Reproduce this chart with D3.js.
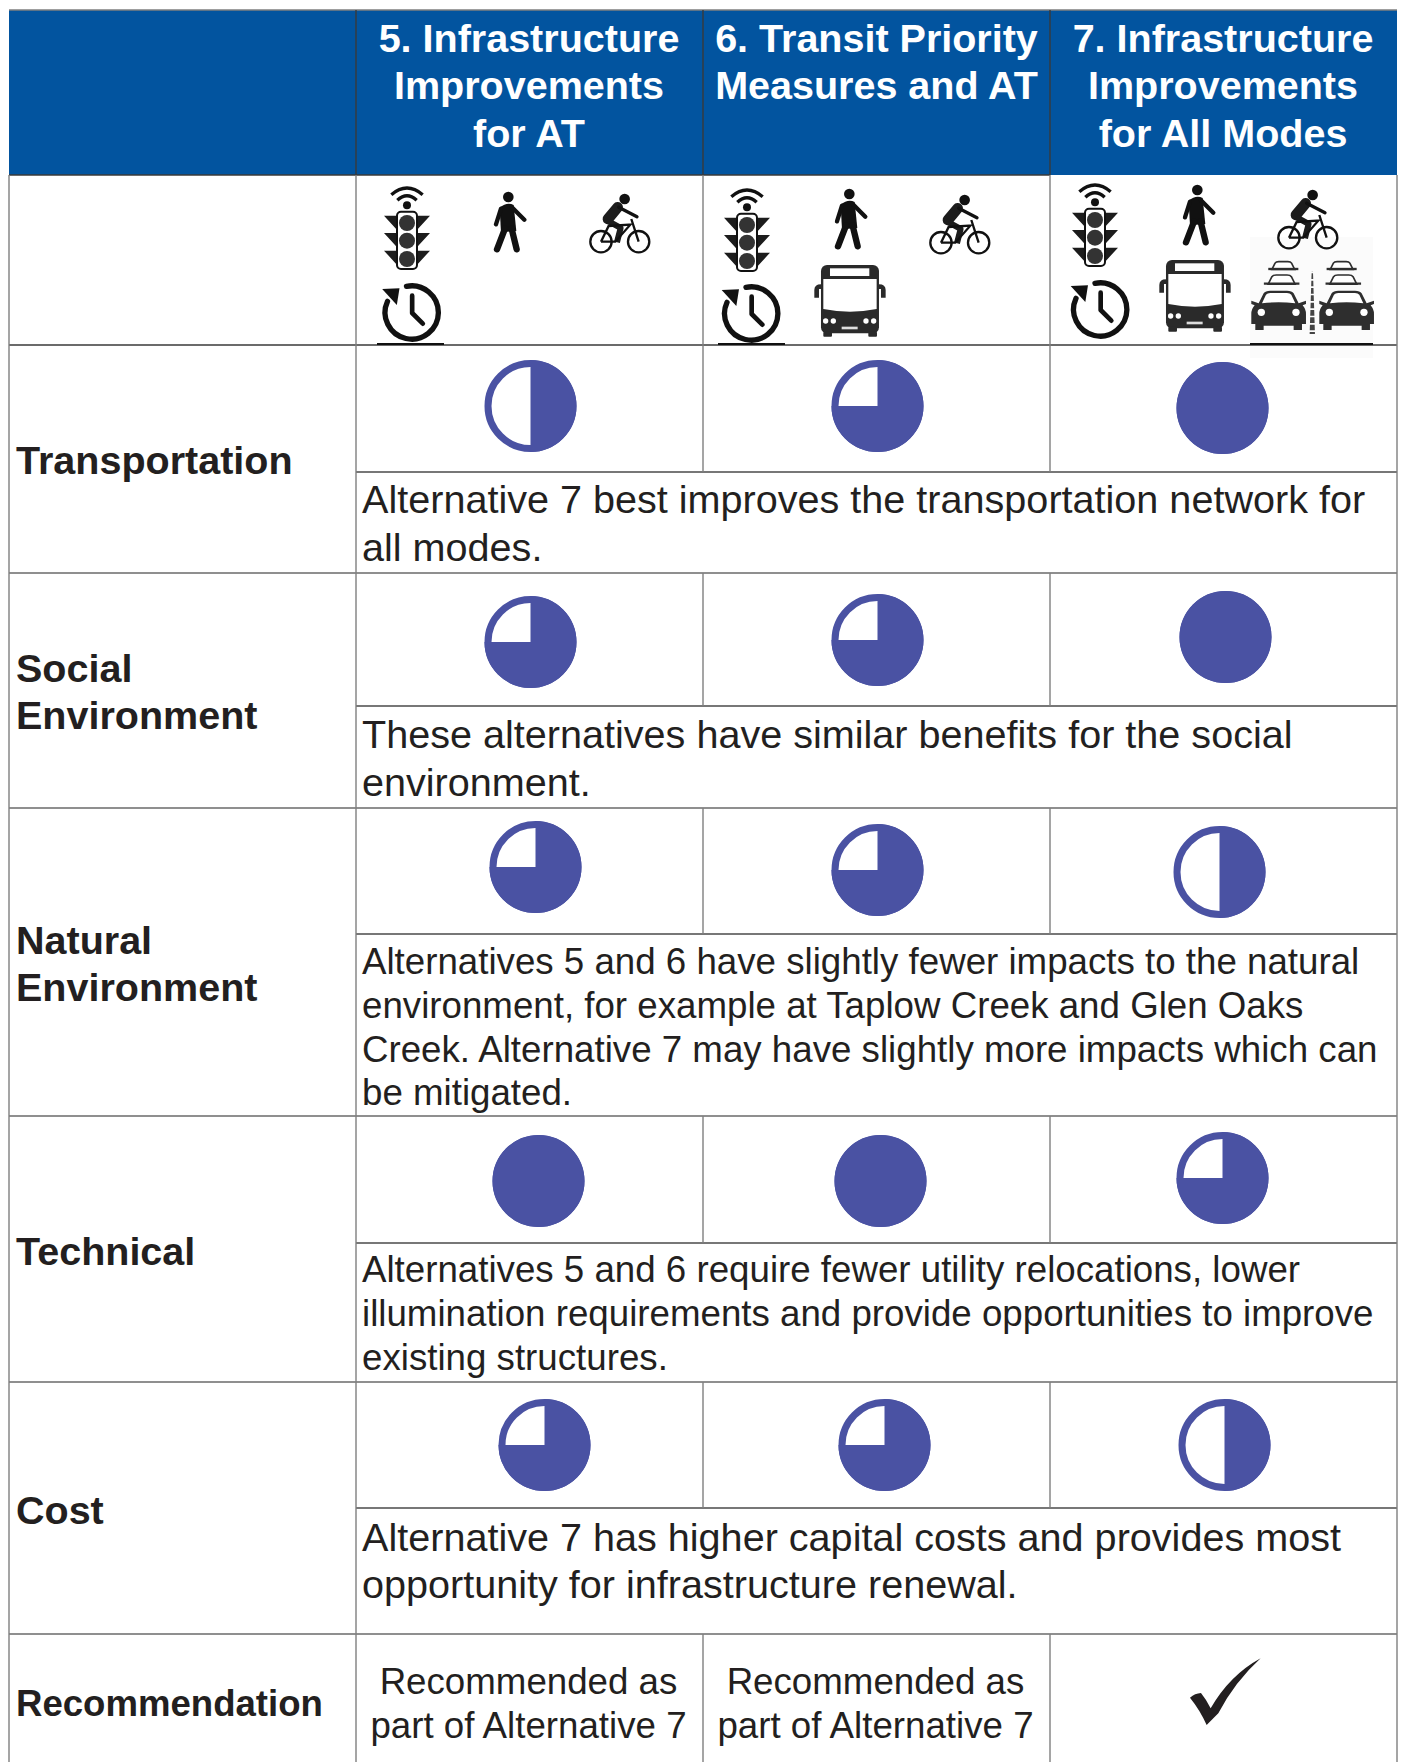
<!DOCTYPE html>
<html>
<head>
<meta charset="utf-8">
<script src="https://cdnjs.cloudflare.com/ajax/libs/d3/7.8.5/d3.min.js"></script>
<style>
    html, body { margin: 0; background: #fff; }
    svg { display: block; }
    text { font-family: "Liberation Sans", Arial, sans-serif; fill: #231f20; }
</style>
</head>
<body>
<svg id="chart"></svg>
<script>
// ---- values ----
const alternatives = ["alt5", "alt6", "alt7"];
const altTitles = [
    ["5. Infrastructure", "Improvements", "for AT"],
    ["6. Transit Priority", "Measures and AT"],
    ["7. Infrastructure", "Improvements", "for All Modes"],
];
const criteria = ["Transportation", "Social Environment", "Natural Environment", "Technical", "Cost"];
const criteriaLines = [
    ["Transportation"],
    ["Social", "Environment"],
    ["Natural", "Environment"],
    ["Technical"],
    ["Cost"],
];
// how full each ball is, one row per criterion
const scoresAlt5 = [0.5, 0.75, 0.75, 1, 0.75];
const scoresAlt6 = [0.75, 0.75, 0.75, 1, 0.75];
const scoresAlt7 = [1, 1, 0.5, 0.75, 0.5];
const notes = [
    ["Alternative 7 best improves the transportation network for", "all modes."],
    ["These alternatives have similar benefits for the social", "environment."],
    ["Alternatives 5 and 6 have slightly fewer impacts to the natural",
        "environment, for example at Taplow Creek and Glen Oaks",
        "Creek. Alternative 7 may have slightly more impacts which can",
        "be mitigated."],
    ["Alternatives 5 and 6 require fewer utility relocations, lower",
        "illumination requirements and provide opportunities to improve",
        "existing structures."],
    ["Alternative 7 has higher capital costs and provides most",
        "opportunity for infrastructure renewal."],
];
const recommendationLabel = "Recommendation";
const recommendedText = ["Recommended as", "part of Alternative 7"];

// ---- layout ----
const width = 1403, height = 1762;
const rowEdges = [345, 573, 808, 1116, 1382, 1634];   // top of each criterion, then top of last row
const subLines = [472, 706, 934, 1243, 1508];
const ballRowY = [406, 640, 868, 1180, 1444];
const ballNudge = [
    [[1, 0], [1, 0], [-1, 2]],
    [[1, 2], [1, 0], [2, -3]],
    [[6, -1], [1, 2], [-4, 4]],
    [[9, 1], [4, 1], [-1, -2]],
    [[15, 1], [8, 1], [1, 1]],
];
const labelBaselines = [[474], [682, 729], [954, 1001], [1265], [1524]];
const noteBaselines = [[513, 561], [748, 796], [974, 1018, 1062, 1105], [1282, 1326, 1370], [1551, 1598]];
const noteFont = [39.6, 39.6, 36.7, 36.7, 39.6];
const headerBaselines = [52, 99, 147];

const svg = d3.select("#chart").attr("width", width).attr("height", height);

const x = d3.scaleBand().domain(alternatives).range([356, 1397]);
const ballY = d3.scaleOrdinal().domain(criteria).range(ballRowY);
const ballR = d3.scaleLinear().domain([0, 1]).range([0, 46]);
const scoreByAlt = {alt5: scoresAlt5, alt6: scoresAlt6, alt7: scoresAlt7};

const lineGrey = "#7f7f7f", lineDark = "#3a3a3a", blue = "#02549f", ballBlue = "#4a52a3";

// header band
svg.append("rect").attr("x", 9).attr("y", 10).attr("width", 1388).attr("height", 165).attr("fill", blue);

// faint box left behind the cars picture
svg.append("rect").attr("x", 1250).attr("y", 237).attr("width", 123).attr("height", 121).attr("fill", "#fbfbfb");

// ---- grid ----
function hLine(x1, x2, y, color) {
    svg.append("line").attr("x1", x1).attr("x2", x2).attr("y1", y).attr("y2", y)
        .attr("stroke", color).attr("stroke-width", 1.4);
}
function vLine(xp, y1, y2, color) {
    svg.append("line").attr("x1", xp).attr("x2", xp).attr("y1", y1).attr("y2", y2)
        .attr("stroke", color).attr("stroke-width", 1.4);
}
hLine(9, 1397, 10, lineGrey);
hLine(9, 1050, 175, lineDark);
hLine(9, 1397, 345, lineDark);
rowEdges.slice(1).forEach(y => hLine(9, 1397, y, "#6a6a6a"));
subLines.forEach(y => hLine(356, 1397, y, "#4a4a4a"));

vLine(9, 175, height, lineGrey);
vLine(1397, 175, height, lineGrey);
vLine(356, 10, 175, lineDark);
vLine(703, 10, 175, lineDark);
vLine(1050, 10, 175, lineDark);
vLine(356, 175, height, lineGrey);
d3.range(0, criteria.length).forEach(i => {
    vLine(703, i === 0 ? 175 : rowEdges[i], subLines[i], lineGrey);
    vLine(1050, i === 0 ? 175 : rowEdges[i], subLines[i], lineGrey);
});
vLine(703, 1634, height, lineGrey);
vLine(1050, 1634, height, lineGrey);

// ---- header text ----
alternatives.forEach((alt, i) => {
    svg.append("g").selectAll("text").data(altTitles[i]).enter().append("text")
        .attr("x", x(alt) + x.bandwidth() / 2 + (i === 1 ? 0 : -0.5))
        .attr("y", (d, j) => headerBaselines[j])
        .attr("text-anchor", "middle")
        .attr("font-size", 39.5)
        .attr("font-weight", "bold")
        .style("fill", "#fff")
        .text(d => d);
});

// ---- row labels ----
criteriaLines.forEach((lines, i) => {
    svg.append("g").selectAll("text").data(lines).enter().append("text")
        .attr("x", 16)
        .attr("y", (d, j) => labelBaselines[i][j])
        .attr("font-size", 39.5)
        .attr("font-weight", "bold")
        .text(d => d);
});
svg.append("text").attr("x", 16).attr("y", 1716)
    .attr("font-size", 36.6).attr("font-weight", "bold").text(recommendationLabel);

// ---- notes ----
notes.forEach((lines, i) => {
    svg.append("g").selectAll("text").data(lines).enter().append("text")
        .attr("x", 362)
        .attr("y", (d, j) => noteBaselines[i][j])
        .attr("font-size", noteFont[i])
        .text(d => d);
});

// ---- harvey balls ----
const arc = d3.arc().innerRadius(0);
criteria.forEach((crit, r) => {
    alternatives.forEach((alt, c) => {
        const value = scoreByAlt[alt][r];
        const cx = x(alt) + x.bandwidth() / 2 + ballNudge[r][c][0];
        const cy = ballY(crit) + ballNudge[r][c][1];
        const outer = ballR(1);
        const ball = svg.append("g").attr("transform", `translate(${cx},${cy})`);
        ball.append("circle").attr("r", outer - 3.5)
            .attr("fill", "#fff").attr("stroke", ballBlue).attr("stroke-width", 7);
        ball.append("path")
            .attr("d", arc({outerRadius: outer, startAngle: 0, endAngle: value * 2 * Math.PI}))
            .attr("fill", ballBlue);
    });
});

// ---- recommendation row ----
alternatives.slice(0, 2).forEach(alt => {
    svg.append("g").selectAll("text").data(recommendedText).enter().append("text")
        .attr("x", x(alt) + x.bandwidth() / 2 - 1)
        .attr("y", (d, j) => 1694 + j * 44)
        .attr("text-anchor", "middle")
        .attr("font-size", 36.7)
        .text(d => d);
});
svg.append("path")
    .attr("transform", "translate(1000,1600) scale(0.3333)")
    .attr("d", "M570,293 Q585,280 603,279 Q620,300 632,325 Q690,225 782,175 Q705,245 655,340 L620,375 Q600,330 570,293Z")
    .attr("fill", "#231f20");

// ---- icons, drawn at 3x in the coordinates of the third column ----
const defs = svg.append("defs");
const ink = "#111";

const traffic = defs.append("g").attr("id", "icon-traffic");
traffic.append("path").attr("d", "M118,95 Q165,55 212,95 M136,112 Q165,85 194,112")
    .attr("fill", "none").attr("stroke", ink).attr("stroke-width", 10);
traffic.append("circle").attr("cx", 165).attr("cy", 127).attr("r", 12).attr("fill", ink);
[158, 210, 263].forEach(y => {
    traffic.append("path").attr("d", `M96,${y} L140,${y} L140,${y + 48} Z M234,${y} L190,${y} L190,${y + 48} Z`).attr("fill", "#1c1c1c");
});
traffic.append("rect").attr("x", 135).attr("y", 146).attr("width", 60).attr("height", 172).attr("rx", 12)
    .attr("fill", "#fff").attr("stroke", ink).attr("stroke-width", 6);
[180, 233, 288].forEach(y => {
    traffic.append("circle").attr("cx", 165).attr("cy", y).attr("r", 24).attr("fill", "#333");
});

const walker = defs.append("g").attr("id", "icon-walker");
walker.append("circle").attr("cx", 472).attr("cy", 90).attr("r", 16).attr("fill", ink);
walker.append("path").attr("d", "M446,122 Q468,104 488,114 L496,192 L450,196 Z").attr("fill", ink);
walker.append("path").attr("d", "M450,125 L435,172 M482,120 L520,158")
    .attr("fill", "none").attr("stroke", ink).attr("stroke-width", 13).attr("stroke-linecap", "round");
walker.append("path").attr("d", "M462,185 L438,247 M482,185 L497,247")
    .attr("fill", "none").attr("stroke", ink).attr("stroke-width", 19).attr("stroke-linecap", "round");

const cyclist = defs.append("g").attr("id", "icon-cyclist");
cyclist.append("circle").attr("cx", 818).attr("cy", 105).attr("r", 16).attr("fill", ink);
cyclist.append("path").attr("d", "M797,130 L768,165")
    .attr("stroke", "#1c1c1c").attr("stroke-width", 32).attr("stroke-linecap", "round");
cyclist.append("path").attr("d", "M800,130 L855,158").attr("stroke", ink).attr("stroke-width", 10).attr("stroke-linecap", "round");
cyclist.append("path").attr("d", "M770,172 L806,192 L795,235").attr("fill", "none").attr("stroke", "#1c1c1c").attr("stroke-width", 18).attr("stroke-linejoin", "round");
cyclist.append("path")
    .attr("d", "M747,233 L790,233 L835,182 L770,186 L747,233 M838,165 L860,233")
    .attr("fill", "none").attr("stroke", ink).attr("stroke-width", 7);
[747, 860].forEach(cx => {
    cyclist.append("circle").attr("cx", cx).attr("cy", 233).attr("r", 32)
        .attr("fill", "none").attr("stroke", ink).attr("stroke-width", 7);
});

const clock = defs.append("g").attr("id", "icon-clock");
clock.append("path").attr("d", "M165,370 A80,80 0 1 1 108,415")
    .attr("fill", "none").attr("stroke", ink).attr("stroke-width", 16).attr("stroke-linecap", "round");
clock.append("path").attr("d", "M92,378 L144,376 L136,426 Z").attr("fill", ink);
clock.append("path").attr("d", "M182,398 L182,450 L214,482")
    .attr("fill", "none").attr("stroke", ink).attr("stroke-width", 14).attr("stroke-linecap", "round").attr("stroke-linejoin", "round");

const bus = defs.append("g").attr("id", "icon-bus");
bus.append("rect").attr("x", 378).attr("y", 300).attr("width", 174).attr("height", 205).attr("rx", 18).attr("fill", "#2a2a2a");
bus.append("path").attr("d", "M378,358 Q358,358 358,375 L358,398 L372,398 L372,372 L378,372 Z M552,358 Q572,358 572,375 L572,398 L558,398 L558,372 L552,372 Z").attr("fill", "#2a2a2a");
bus.append("rect").attr("x", 405).attr("y", 310).attr("width", 118).attr("height", 23).attr("fill", "#fff");
bus.append("path").attr("d", "M385,342 L545,342 L545,432 Q465,448 385,432 Z").attr("fill", "#fff");
[392, 415, 513, 536].forEach(cx => {
    bus.append("circle").attr("cx", cx).attr("cy", 468).attr("r", 8).attr("fill", "#fff");
});
bus.append("rect").attr("x", 440).attr("y", 485).attr("width", 48).attr("height", 8).attr("fill", "#ddd");
[385, 520].forEach(wx => {
    bus.append("rect").attr("x", wx).attr("y", 500).attr("width", 26).attr("height", 15).attr("rx", 3).attr("fill", "#2a2a2a");
});

const carBody = "M-60,38 L-45,8 Q-40,0 -25,0 L25,0 Q40,0 45,8 L60,38 L82,30 L82,40 L72,44 Q82,55 82,70 L82,100 L70,100 L70,118 L45,118 L45,105 L-45,105 L-45,118 L-70,118 L-70,100 L-82,100 L-82,70 Q-82,55 -72,44 L-82,40 L-82,30 Z";
const carGlass = "M-50,38 L-38,12 Q-34,7 -25,7 L25,7 Q34,7 38,12 L50,38 Q0,32 -50,38 Z";
const cars = defs.append("g").attr("id", "icon-cars");
function drawCar(cx, top, s) {
    const g = cars.append("g").attr("transform", `translate(${cx},${top}) scale(${s})`);
    g.append("path").attr("d", carBody).attr("fill", "#2e2e2e");
    g.append("path").attr("d", carGlass).attr("fill", "#fff");
    [-52, 52].forEach(hx => g.append("circle").attr("cx", hx).attr("cy", 65).attr("r", 11).attr("fill", "#fff"));
}
// cars further back only show a roof outline and a bar over the hood
function drawCarBehind(cx, top, s) {
    const g = cars.append("g").attr("transform", `translate(${cx},${top}) scale(${s})`);
    g.append("path").attr("d", "M-62,42 L-45,8 Q-40,0 -25,0 L25,0 Q40,0 45,8 L62,42 Z")
        .attr("fill", "#fff").attr("stroke", "#2e2e2e").attr("stroke-width", 5 / s);
    g.append("path").attr("d", "M-82,40 L82,40").attr("stroke", "#2e2e2e").attr("stroke-width", 7 / s);
}
drawCarBehind(730, 305, 0.55);
drawCarBehind(905, 305, 0.55);
drawCarBehind(725, 345, 0.65);
drawCarBehind(910, 345, 0.65);
drawCar(716, 392, 1);
drawCar(920, 392, 1);
cars.append("path").attr("d", "M815,335 L819,335 L825,522 L809,522 Z").attr("fill", "#444");
cars.append("line").attr("x1", 817).attr("x2", 817).attr("y1", 335).attr("y2", 522)
    .attr("stroke", "#fbfbfb").attr("stroke-width", 20).attr("stroke-dasharray", "5 17");

// [icon, dx, dy] for each column, shift from the drawn position
const iconColumns = [
    [["traffic", -688, 3], ["walker", -689, 7], ["cyclist", -688, 4], ["clock", -688.5, 3]],
    [["traffic", -348, 5], ["walker", -348, 4], ["cyclist", -348, 5], ["clock", -349, 4], ["bus", -345, 5]],
    [["traffic", 0, 0], ["walker", 0, 0], ["cyclist", 0, 0], ["clock", 0, 0], ["bus", 0, 0], ["cars", 0, 0]],
];
iconColumns.forEach(col => {
    col.forEach(ic => {
        svg.append("use").attr("href", "#icon-" + ic[0])
            .attr("transform", `translate(${1040 + ic[1]},${160 + ic[2]}) scale(0.3333)`);
    });
});

// dark rules left under the last row of icons
[[377, 444], [718, 785], [1250, 1373]].forEach(r => {
    svg.append("line").attr("x1", r[0]).attr("x2", r[1]).attr("y1", 344).attr("y2", 344)
        .attr("stroke", "#111").attr("stroke-width", 1.8);
});
</script>
</body>
</html>
